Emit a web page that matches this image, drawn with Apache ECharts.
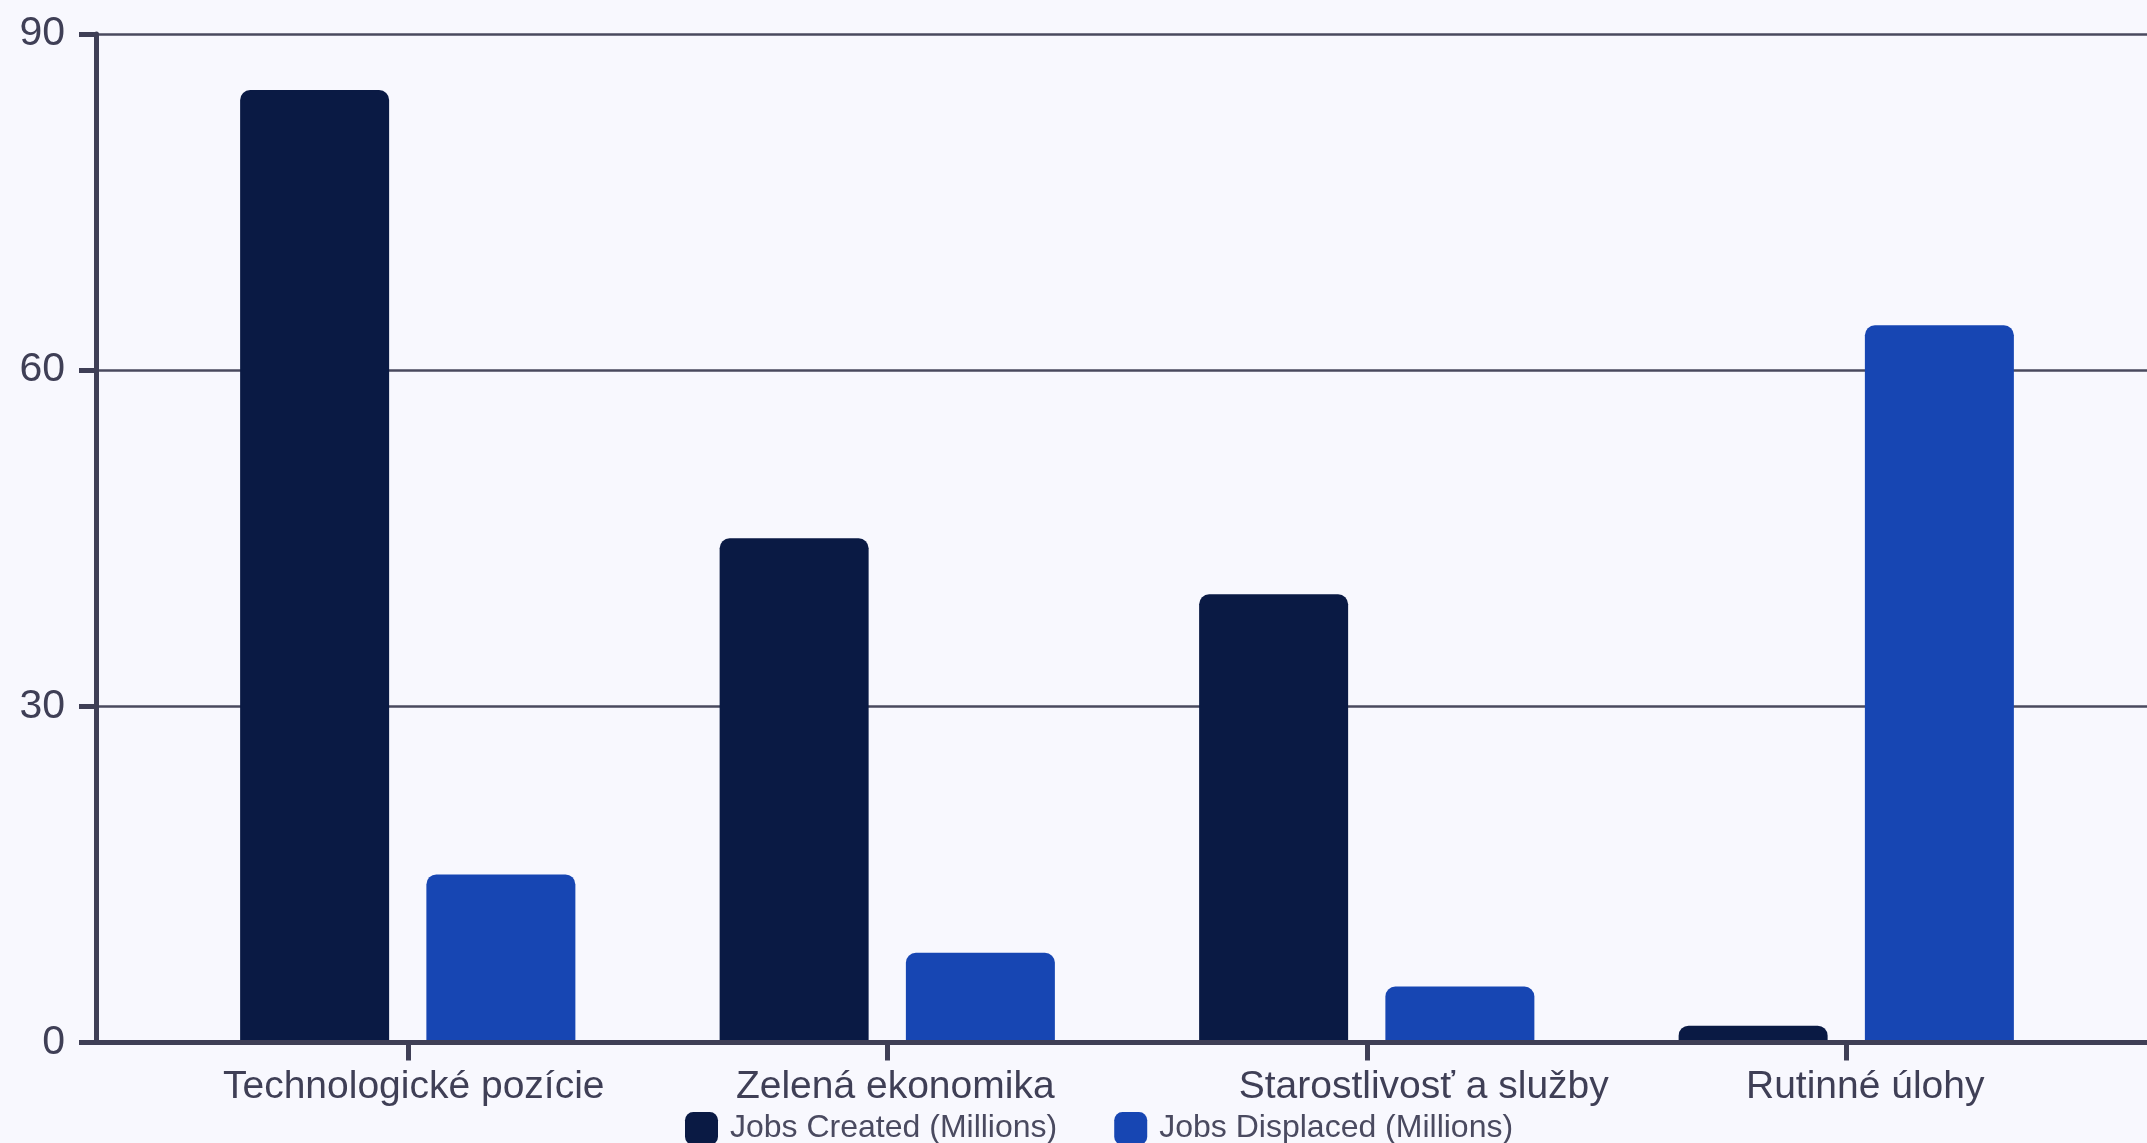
<!DOCTYPE html>
<html>
<head>
<meta charset="utf-8">
<script src="https://cdn.jsdelivr.net/npm/echarts@6/dist/echarts.min.js"></script>
<style>
html,body{margin:0;padding:0;background:#f8f8fe;}
#c{width:2147px;height:1143px;}
</style>
</head>
<body>
<div id="c"></div>
<script>
const categories = ["Technologické pozície", "Zelená ekonomika", "Starostlivosť a služby", "Rutinné úlohy"];
const jobsCreated = [85, 45, 40, 1.5];
const jobsDisplaced = [15, 8, 5, 64];
const seriesNames = ["Jobs Created (Millions)", "Jobs Displaced (Millions)"];
const yTicks = [0, 30, 60, 90];

// style: horizontal nudges of the category labels (px), as in the reference
const labelShift = [6, 8, 57, 19];

const axisColor = '#3f3f56';
const textColor = '#3f3f56';
const font = "'Liberation Sans', Arial, sans-serif";

const rich = {};
labelShift.forEach((d, i) => {
  rich['s' + i] = {fontSize: 39, fontFamily: font, color: textColor, padding: d >= 0 ? [0, 0, 0, 2 * d] : [0, -2 * d, 0, 0]};
});

const chart = echarts.init(document.getElementById('c'), null, {renderer: 'canvas'});
chart.setOption({
  backgroundColor: '#f8f8fe',
  animation: false,
  grid: [
    {left: 96, right: -10, top: 34, bottom: 100.5},
    {left: 168, right: 61, top: 34, bottom: 100.5}
  ],
  xAxis: [
    {gridIndex: 0, type: 'value', min: 0, max: 1, z: 10,
      axisLine: {show: true, lineStyle: {color: axisColor, width: 5}},
      axisTick: {show: false}, axisLabel: {show: false}, splitLine: {show: false}},
    {gridIndex: 1, type: 'category', data: categories, z: 10,
      axisLine: {show: false},
      axisTick: {show: true, alignWithLabel: true, length: 18, lineStyle: {color: axisColor, width: 5}},
      axisLabel: {interval: 0, margin: 25, fontSize: 39, fontFamily: font, color: textColor,
        formatter: (v, i) => '{s' + i + '|' + v + '}', rich: rich}}
  ],
  yAxis: [
    {gridIndex: 0, type: 'value', min: yTicks[0], max: yTicks[yTicks.length-1], interval: 30,
      axisLine: {show: true, lineStyle: {color: axisColor, width: 5}},
      axisTick: {show: true, length: 17, lineStyle: {color: axisColor, width: 5}},
      axisLabel: {margin: 31, fontSize: 41, fontFamily: font, color: textColor},
      splitLine: {show: true, lineStyle: {color: '#4a4a5e', width: 2.5}}},
    {gridIndex: 1, type: 'value', min: 0, max: 90, interval: 30, show: false, splitLine: {show: false}}
  ],
  legend: {
    left: 685, top: 1112, padding: 0, itemWidth: 33, itemHeight: 33, itemGap: 57,
    icon: 'roundRect',
    textStyle: {fontSize: 32, fontFamily: font, color: '#4a4a60', padding: [0, 0, 0, 7]},
    data: seriesNames
  },
  series: [
    {name: seriesNames[0], type: 'bar', xAxisIndex: 1, yAxisIndex: 1, data: jobsCreated,
      barWidth: 149, barGap: '25%',
      itemStyle: {color: '#0a1a44', borderRadius: [10, 10, 0, 0]}},
    {name: seriesNames[1], type: 'bar', xAxisIndex: 1, yAxisIndex: 1, data: jobsDisplaced,
      barWidth: 149, barGap: '25%',
      itemStyle: {color: '#1746b3', borderRadius: [10, 10, 0, 0]}}
  ]
});
</script>
</body>
</html>
